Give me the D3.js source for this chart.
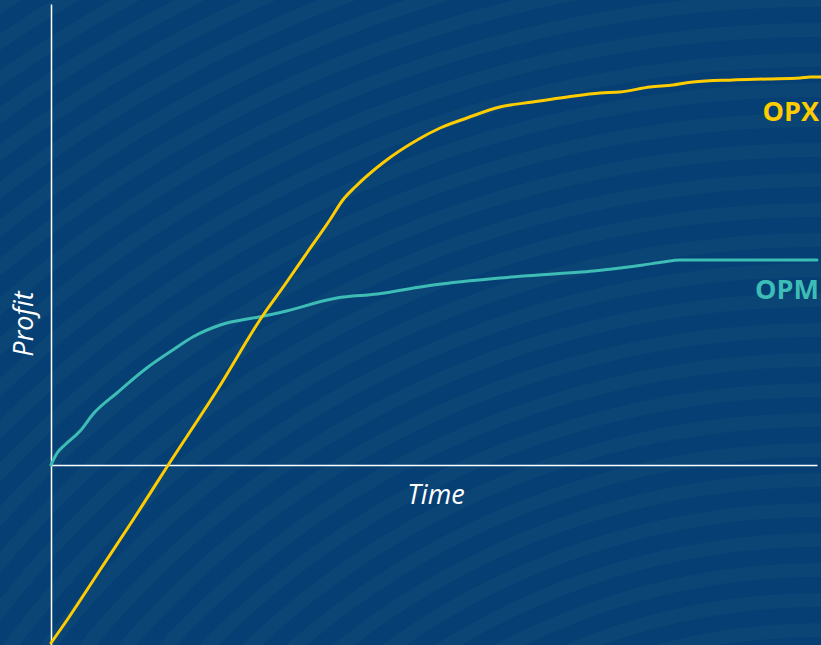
<!DOCTYPE html>
<html>
<head>
<meta charset="utf-8">
<script src="https://cdn.jsdelivr.net/npm/d3@7"></script>
<style>
  html, body { margin: 0; padding: 0; background: #053f73; overflow: hidden; }
  svg { display: block; }
</style>
</head>
<body>
<svg id="chart" width="821" height="645"></svg>
<script>
// ---- Data (time in % of horizon, profit in arbitrary units) ----
const opxTime   = [0, 2.1, 6.4, 10.7, 15.3, 21.7, 27.7, 30.5, 33.4, 36.4, 38.1, 39.7, 43.3, 47.8, 50.8, 54.3, 58.6, 62.9, 67.4, 71.7, 74.3, 78.2, 81.2, 83.8, 89.0, 93.5, 97.8, 99.1, 100.5];
const opxProfit = [-35.6, -31, -21, -11, 0, 15, 30, 36, 42.4, 49, 53, 55.6, 60.4, 65, 67.4, 69.4, 71.6, 72.6, 73.6, 74.4, 74.6, 75.6, 76, 76.6, 77, 77.2, 77.4, 77.6, 77.6];

const opmTime   = [0, 0.8, 1.8, 3.8, 5.5, 8.6, 12.5, 15.9, 18.5, 22.1, 27.1, 30.2, 37.3, 42.6, 49.9, 58.6, 67.4, 70.8, 74.3, 77.3, 79.9, 82.1, 100];
const opmProfit = [0, 2.4, 4, 6.8, 10.2, 14.4, 19.4, 23, 25.6, 28, 29.6, 30.6, 33.4, 34.2, 36, 37.4, 38.4, 38.8, 39.4, 40, 40.6, 41, 41];

const seriesNames = ["OPX", "OPM"];
const xAxisTitle = "Time";
const yAxisTitle = "Profit";

// ---- Layout ----
const W = 821, H = 645;
const svg = d3.select("#chart");

// Decorative background: broad concentric arcs
const bg = svg.append("g");
bg.append("rect").attr("width", W).attr("height", H).attr("fill", "#053f73");
const radii = d3.range(560, 1700, 30);
bg.selectAll("circle").data(radii).join("circle")
  .attr("cx", 820).attr("cy", 1250).attr("r", d => d)
  .attr("fill", "none").attr("stroke", "#0a4576").attr("stroke-width", 14);

const x = d3.scaleLinear().domain([0, 100]).range([51, 817]);
const y = d3.scaleLinear().domain([-36, 92.2]).range([645, 4]);

// Axes (no ticks, just the lines)
svg.append("g")
  .attr("transform", `translate(0,${y(0)})`)
  .call(d3.axisBottom(x).tickValues([]).tickSizeOuter(0))
  .call(g => g.select(".domain").attr("stroke", "#ffffff").attr("stroke-width", 1.5));
svg.append("g")
  .attr("transform", `translate(${x(0)},0)`)
  .call(d3.axisLeft(y).tickValues([]).tickSizeOuter(0))
  .call(g => g.select(".domain").attr("stroke", "#ffffff").attr("stroke-width", 1.5));

const line = d3.line().x(d => x(d[0])).y(d => y(d[1])).curve(d3.curveMonotoneX);

const opm = opmTime.map((t, i) => [t, opmProfit[i]]);
const opx = opxTime.map((t, i) => [t, opxProfit[i]]);

svg.append("path").datum(opm).attr("d", line)
  .attr("fill", "none").attr("stroke", "#3dbdb5").attr("stroke-width", 3)
  .attr("stroke-linejoin", "round").attr("stroke-linecap", "round");
svg.append("path").datum(opx).attr("d", line)
  .attr("fill", "none").attr("stroke", "#ffcc00").attr("stroke-width", 3)
  .attr("stroke-linejoin", "round").attr("stroke-linecap", "round");

// Series labels
svg.append("text").text(seriesNames[0])
  .attr("x", 819).attr("y", y(68.8)).attr("text-anchor", "end")
  .attr("font-family", "Open Sans").attr("font-weight", 700).attr("font-size", 27)
  .attr("fill", "#ffcc00");
svg.append("text").text(seriesNames[1])
  .attr("x", 819).attr("y", y(33.2)).attr("text-anchor", "end")
  .attr("font-family", "Open Sans").attr("font-weight", 700).attr("font-size", 27)
  .attr("fill", "#3dbdb5");

// Axis titles
svg.append("text").text(xAxisTitle)
  .attr("x", 436).attr("y", 504).attr("text-anchor", "middle")
  .attr("font-family", "Open Sans").attr("font-style", "italic").attr("font-size", 27)
  .attr("fill", "#ffffff");
svg.append("text").text(yAxisTitle)
  .attr("transform", "translate(33,324) rotate(-90)").attr("text-anchor", "middle")
  .attr("font-family", "Open Sans").attr("font-style", "italic").attr("font-size", 27)
  .attr("fill", "#ffffff");
</script>
</body>
</html>
